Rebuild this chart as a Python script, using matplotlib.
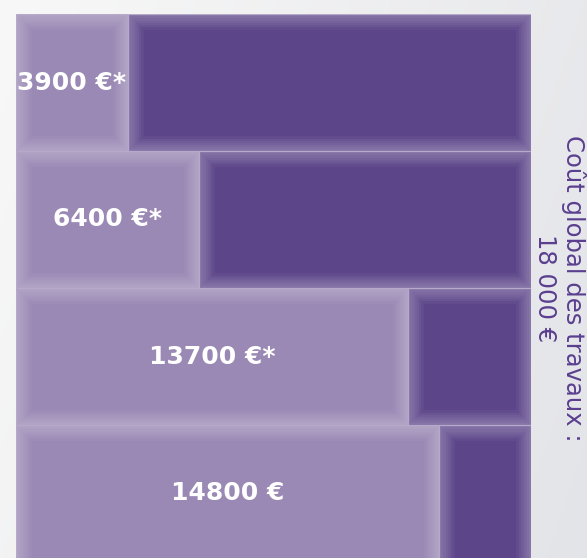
import matplotlib.pyplot as plt
import numpy as np
from matplotlib.patches import Rectangle
from matplotlib.colors import LinearSegmentedColormap

# ---- data ----
labels = ["3900 €*", "6400 €*", "13700 €*", "14800 €"]
values = [3900, 6400, 13700, 14800]
total = 18000
side_line1 = "Coût global des travaux :"
side_line2 = "18 000 €"

light = "#9a89b4"
dark = "#5c4589"

W, H = 587, 558
fig = plt.figure(figsize=(W / 100, H / 100), dpi=100)

# background gradient
bg = fig.add_axes([0, 0, 1, 1])
gx = np.linspace(0, 1, 256)[None, :]
gy = np.linspace(0, 1, 256)[:, None]
grad = 0.75 * gx + 0.25 * gy
cmap = LinearSegmentedColormap.from_list("bg", ["#f8f8f8", "#e3e4e8"])
bg.imshow(grad, extent=[0, 1, 0, 1], aspect="auto", cmap=cmap, origin="upper")
bg.set_xlim(0, 1)
bg.set_ylim(0, 1)
bg.axis("off")

ax = fig.add_axes([16 / W, -4 / H, 515 / W, 548 / H])
ax.patch.set_alpha(0)
y = np.arange(len(values))
remaining = [total - v for v in values]
b1 = ax.barh(y, values, height=0.993, color=light, edgecolor="#a393bd", lw=0.8)
b2 = ax.barh(y, remaining, left=values, height=0.993, color=dark,
             edgecolor="#a393bd", lw=0.8)

for patch in list(b1) + list(b2):
    for lw in [22, 18, 15, 12, 9, 6, 3]:
        r = Rectangle(patch.get_xy(), patch.get_width(), patch.get_height(),
                      fill=False, edgecolor="#e8e2f0", alpha=0.055, lw=lw)
        ax.add_patch(r)
        r.set_clip_path(patch)

for yi, v, lab in zip(y, values, labels):
    ax.text(v / 2, yi, lab, ha="center", va="center", color="white",
            fontsize=18, fontweight="bold", family="DejaVu Sans")

ax.set_xlim(0, total)
ax.set_ylim(len(values) - 0.5, -0.5)
ax.axis("off")

fig.text(574 / W, 1 - 288 / H, side_line1, rotation=-90, ha="center", va="center",
         color="#5a3f8f", fontsize=17.5, family="DejaVu Sans", fontweight="normal")
fig.text(545 / W, 1 - 288 / H, side_line2, rotation=-90, ha="center", va="center",
         color="#5a3f8f", fontsize=17.5, family="DejaVu Sans", fontweight="normal")

fig.savefig("out.png", dpi=100)
